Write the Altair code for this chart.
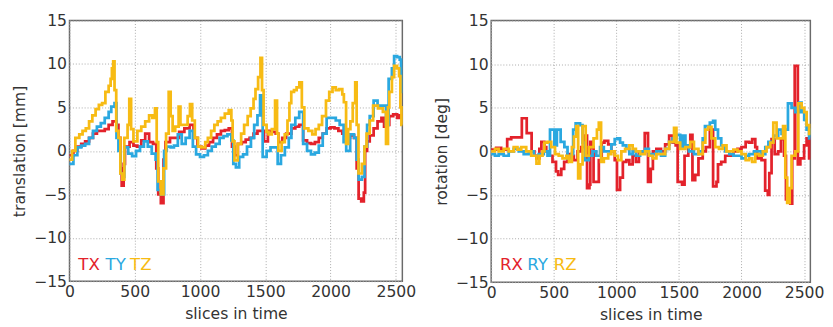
import altair as alt
import pandas as pd

# ---------------- data ----------------
TX_S = [0, 30, 60, 90, 120, 150, 180, 210, 240, 270, 300, 330, 360, 375, 390, 400, 415, 425, 460, 490, 520, 550, 580, 610, 640, 665, 680, 700, 720, 735, 770, 800, 840, 880, 920, 950, 980, 1010, 1040, 1070, 1100, 1130, 1160, 1190, 1220, 1245, 1265, 1290, 1320, 1350, 1380, 1410, 1440, 1470, 1490, 1520, 1550, 1580, 1600, 1630, 1660, 1700, 1730, 1760, 1790, 1820, 1850, 1880, 1910, 1940, 1970, 2000, 2030, 2060, 2090, 2120, 2150, 2180, 2200, 2215, 2235, 2255, 2265, 2280, 2300, 2330, 2360, 2390, 2410, 2430, 2450, 2480, 2510, 2530, 2550]
TX_V = [-0.5, 0.0, 0.5, 0.8, 1.1, 1.5, 2.0, 2.3, 2.3, 2.5, 3.0, 3.4, 3.0, 1.5, -2.0, -4.0, -1.5, 0.5, 1.0, 0.6, 0.5, 1.2, 2.0, 1.0, 0.8, -2.0, -5.0, -6.0, -1.0, 1.0, 1.5, 1.5, 2.2, 2.6, 3.0, 1.5, 0.5, 0.3, 0.6, 1.0, 1.5, 1.9, 2.3, 2.4, 2.6, 0.5, -0.5, 0.8, 1.0, 1.3, 1.5, 2.0, 2.3, 2.3, 1.1, 2.3, 2.2, 2.0, 1.0, 1.5, 2.0, 2.6, 2.8, 3.0, 1.2, 0.9, 0.8, 1.0, 1.5, 2.0, 2.6, 2.7, 2.6, 2.3, 2.0, 1.5, 1.8, 1.5, -2.0, -5.5, -5.8, -4.8, 0.0, 1.1, 1.8, 2.6, 3.4, 3.8, 2.8, 3.0, 4.0, 4.2, 3.8, 4.1, 4.1]

TY_S = [0, 30, 60, 90, 120, 150, 180, 210, 240, 270, 300, 320, 345, 360, 375, 390, 405, 420, 450, 480, 510, 540, 570, 600, 630, 660, 675, 700, 725, 745, 775, 800, 830, 860, 890, 920, 945, 970, 1000, 1030, 1060, 1090, 1120, 1150, 1180, 1210, 1240, 1255, 1275, 1300, 1330, 1360, 1390, 1415, 1440, 1460, 1480, 1510, 1540, 1570, 1595, 1620, 1650, 1680, 1700, 1730, 1760, 1790, 1820, 1850, 1880, 1910, 1940, 1970, 2010, 2040, 2070, 2100, 2120, 2150, 2180, 2200, 2215, 2240, 2260, 2280, 2300, 2330, 2360, 2400, 2425, 2445, 2470, 2487, 2510, 2530, 2540, 2550]
TY_V = [-1.5, -0.5, 0.4, 0.6, 0.8, 1.5, 2.3, 2.8, 3.2, 3.8, 4.5, 5.1, 5.5, 1.5, 0.0, -2.6, -3.0, 0.4, -0.3, -0.6, 0.0, 0.5, 1.1, 0.5, -0.3, -1.0, -4.5, -5.0, 0.0, 0.5, 0.4, 0.6, 1.9, 0.8, 1.5, 2.3, 0.5, -0.4, -0.7, -0.5, 0.0, 0.5, 0.8, 1.5, 1.7, 1.9, 1.2, -1.5, -1.9, -0.7, -0.4, 0.5, 1.5, 3.0, 4.1, 6.4, -0.7, 0.0, 0.4, 0.4, -1.5, -0.5, 0.4, 1.5, 3.0, 3.8, 4.5, 0.8, 0.0, -0.4, -0.2, 0.6, 2.0, 3.8, 3.8, 3.5, 3.0, 1.0, 0.0, 1.9, 1.5, -1.0, -3.3, -3.0, 0.5, 3.0, 4.0, 5.8, 5.2, 5.2, 3.0, 8.3, 9.5, 10.9, 10.8, 10.5, 6.8, 6.8]

TZ_S = [0, 20, 45, 75, 100, 125, 150, 175, 200, 225, 250, 275, 300, 315, 325, 335, 345, 358, 375, 390, 405, 420, 445, 458, 472, 490, 520, 550, 580, 610, 635, 655, 668, 680, 700, 720, 740, 760, 775, 790, 810, 836, 850, 880, 905, 923, 940, 960, 985, 1010, 1040, 1060, 1085, 1110, 1135, 1160, 1190, 1220, 1240, 1250, 1264, 1289, 1315, 1338, 1365, 1388, 1410, 1425, 1445, 1463, 1475, 1487, 1510, 1525, 1550, 1575, 1590, 1600, 1625, 1649, 1670, 1685, 1699, 1720, 1740, 1761, 1780, 1799, 1830, 1860, 1885, 1910, 1935, 1965, 1990, 2015, 2040, 2065, 2090, 2102, 2119, 2135, 2152, 2170, 2189, 2200, 2214, 2240, 2260, 2276, 2300, 2326, 2363, 2401, 2425, 2440, 2450, 2470, 2487, 2510, 2525, 2535, 2543, 2550]
TZ_V = [-1.0, 0.0, 1.5, 1.9, 2.3, 2.6, 3.4, 4.1, 4.8, 5.3, 5.5, 6.8, 7.5, 8.3, 9.5, 10.3, 7.0, 2.3, 1.5, -2.6, -3.3, 1.5, 3.0, 6.0, 2.5, 1.1, 2.3, 2.8, 3.4, 4.1, 3.8, 4.9, 1.0, -3.5, -5.0, -2.0, 2.0, 6.8, 4.0, 2.3, 2.8, 5.1, 3.0, 3.0, 4.0, 5.4, 3.5, 1.5, 0.5, 0.4, 1.0, 1.5, 2.3, 3.0, 3.4, 3.8, 4.3, 4.7, 3.5, 1.1, -1.1, 0.8, 2.0, 3.0, 4.0, 4.9, 6.0, 7.1, 8.5, 10.7, 7.0, 3.0, 2.2, 1.9, 2.5, 5.8, 2.0, 0.0, 1.0, 1.9, 3.5, 5.5, 6.8, 7.0, 7.3, 7.9, 5.0, 2.6, 2.3, 1.9, 2.5, 3.0, 4.0, 5.8, 6.8, 7.3, 7.0, 7.1, 6.5, 5.6, 0.8, 2.5, 3.4, 5.5, 7.9, 3.0, -2.6, -1.5, 0.5, 2.0, 3.5, 5.2, 4.9, 4.5, 0.8, 5.0, 6.8, 8.5, 9.8, 9.5, 8.6, 5.0, 3.0, 3.0]

RX_S = [0, 40, 80, 128, 160, 200, 245, 284, 323, 345, 362, 385, 401, 425, 440, 465, 490, 518, 535, 560, 583, 610, 635, 660, 690, 720, 750, 766, 785, 792, 805, 818, 845, 860, 883, 905, 935, 960, 987, 1005, 1030, 1052, 1080, 1104, 1130, 1156, 1180, 1208, 1227, 1253, 1275, 1292, 1320, 1357, 1390, 1422, 1450, 1474, 1490, 1525, 1545, 1575, 1591, 1608, 1630, 1656, 1690, 1715, 1747, 1773, 1800, 1812, 1838, 1870, 1903, 1935, 1968, 2000, 2033, 2060, 2085, 2110, 2124, 2160, 2189, 2210, 2222, 2240, 2265, 2293, 2315, 2340, 2355, 2390, 2405, 2425, 2450, 2470, 2500, 2520, 2540, 2550]
RX_V = [0.2, 0.4, 0.2, 1.4, 1.6, 1.6, 3.8, 2.1, 0.0, -0.5, -0.8, 0.3, 1.1, 0.5, 0.0, -0.5, -1.2, -2.3, -2.7, -2.0, -1.2, -0.3, -0.5, -1.0, 0.0, 0.5, 1.8, -4.2, -3.8, 1.1, 0.5, -3.5, -3.5, -1.0, 1.0, 1.2, 0.8, 0.0, -1.0, -4.4, -3.0, -1.2, -1.0, -1.5, -0.5, -1.2, 0.0, -0.2, 2.1, -3.5, -2.0, 0.0, 0.3, 0.0, 0.8, 1.8, 1.0, 0.7, -3.5, -3.8, -0.5, 0.5, 1.9, -3.3, -2.7, -0.8, 0.0, 0.5, 2.5, -4.0, -3.5, -1.5, -1.2, -0.5, -0.5, 0.0, 0.3, 0.5, 1.1, 1.0, 1.4, 0.5, -0.8, -1.0, -4.5, -5.0, -2.5, 1.4, -0.3, 0.0, 1.4, -0.5, -5.5, -6.0, -0.8, 9.8, -1.5, -0.8, 0.7, 1.5, -0.8, -0.8]

RY_S = [0, 30, 60, 100, 140, 180, 220, 260, 300, 340, 380, 420, 450, 470, 505, 525, 555, 585, 610, 640, 655, 675, 710, 730, 750, 780, 810, 840, 870, 900, 935, 960, 987, 1008, 1030, 1052, 1080, 1104, 1130, 1156, 1190, 1230, 1260, 1292, 1320, 1357, 1390, 1422, 1450, 1480, 1510, 1530, 1552, 1580, 1620, 1656, 1690, 1708, 1747, 1773, 1790, 1812, 1838, 1870, 1903, 1935, 1968, 2000, 2033, 2060, 2100, 2124, 2160, 2190, 2215, 2254, 2293, 2320, 2345, 2371, 2400, 2430, 2462, 2480, 2501, 2520, 2540, 2550]
RY_V = [-0.3, -0.5, -0.3, -0.5, 0.0, 0.3, 0.0, -0.3, 0.0, -0.5, -0.3, 0.0, -0.5, 2.5, 0.7, 2.5, 1.1, 0.5, -0.8, -0.3, 2.5, 3.2, 3.0, 1.0, -1.0, -0.5, 0.0, -0.5, 0.5, 0.0, 0.0, 0.8, 1.4, 1.5, 1.0, 0.7, 0.3, -0.3, 0.0, -0.5, 0.0, 0.3, -0.3, -0.3, 0.0, -0.5, 0.3, 1.1, 1.5, 1.9, 0.5, 1.8, 0.7, 0.0, -0.3, 0.0, 1.5, 2.9, 3.3, 3.5, 2.5, 1.5, 0.7, 0.0, -0.3, -0.5, -0.5, -0.8, -0.5, -0.3, 0.0, 0.0, -0.3, 0.5, 1.1, 1.8, 2.5, 2.0, 2.5, 5.5, 5.0, 4.5, 5.6, 4.5, 3.6, 2.5, 1.5, 1.5]

RZ_S = [0, 30, 60, 100, 140, 180, 210, 240, 280, 320, 362, 385, 410, 425, 450, 480, 510, 540, 570, 600, 622, 645, 661, 680, 695, 712, 730, 755, 780, 818, 845, 860, 878, 900, 935, 960, 987, 1013, 1040, 1070, 1104, 1130, 1156, 1190, 1230, 1260, 1292, 1320, 1357, 1390, 1422, 1461, 1480, 1510, 1552, 1591, 1620, 1656, 1690, 1711, 1734, 1760, 1790, 1820, 1850, 1880, 1903, 1935, 1968, 2000, 2033, 2060, 2085, 2110, 2140, 2170, 2200, 2230, 2254, 2280, 2300, 2332, 2350, 2365, 2385, 2400, 2430, 2453, 2480, 2501, 2520, 2540, 2550]
RZ_V = [0.0, 0.3, 0.0, 0.3, 0.0, 0.5, 0.2, 0.5, 0.0, -0.5, -1.4, -0.5, 0.0, 1.0, 1.1, 0.5, -0.3, -0.5, -0.8, -0.5, -1.2, 0.5, 1.7, 2.9, -3.1, -1.5, 2.9, -0.5, 0.5, 1.5, 2.5, 3.3, -1.2, -0.8, -0.3, 0.0, -0.5, -1.0, 0.0, 0.3, 0.7, 0.3, 0.0, -0.3, 0.0, -0.5, -0.8, -0.3, -0.3, 0.3, 1.1, 2.7, 1.0, 0.3, 0.5, 1.1, 0.3, -0.3, 1.0, 2.5, 2.8, 1.5, 0.5, 0.3, 0.7, 0.0, 0.0, 0.2, 0.0, -0.3, -1.0, -0.8, -1.2, -0.3, -0.5, 0.0, 0.5, 1.0, 3.3, 1.5, 1.5, 2.9, -3.0, -5.9, -4.2, -0.5, 0.0, 5.5, 5.0, 4.5, 3.0, 2.0, 2.0]

X_TICKS = [0, 500, 1000, 1500, 2000, 2500]
Y_TICKS = [-15, -10, -5, 0, 5, 10, 15]

RED = "#e3222b"
BLUE = "#2aa8e0"
YELLOW = "#f7bb14"
FONT = "DejaVu Sans"


def panel(series, ytitle, width, height, legend_x):
    xenc = alt.X("slice:Q", scale=alt.Scale(domain=[0, 2550], nice=False),
                 axis=alt.Axis(values=X_TICKS, title="slices in time", format="d"))
    yenc = alt.Y("value:Q", scale=alt.Scale(domain=[-15, 15], nice=False),
                 axis=alt.Axis(values=Y_TICKS, title=ytitle,
                               labelExpr="replace(datum.label, '-', '\u2212')"))
    layers = []
    for name, s, v, color in series:
        df = pd.DataFrame({"slice": s, "value": v, "series": name})
        layers.append(
            alt.Chart(df).mark_line(interpolate="step-after", color=color,
                                    strokeWidth=2.8)
            .encode(x=xenc, y=yenc)
        )
    for (name, s, v, color), lx in zip(series, legend_x):
        layers.append(
            alt.Chart(pd.DataFrame({"t": [name]}))
            .mark_text(align="left", baseline="alphabetic", fontSize=17,
                       font=FONT, color=color)
            .encode(x=alt.value(lx), y=alt.value(255), text="t:N")
        )
    return alt.layer(*layers).properties(width=width, height=height)


left = panel([("TX", TX_S, TX_V, RED), ("TY", TY_S, TY_V, BLUE),
              ("TZ", TZ_S, TZ_V, YELLOW)],
             "translation [mm]", 341, 267, [9, 37, 62])
right = panel([("RX", RX_S, RX_V, RED), ("RY", RY_S, RY_V, BLUE),
               ("RZ", RZ_S, RZ_V, YELLOW)],
              "rotation [deg]", 327, 268, [9, 37, 64])

chart = (
    alt.hconcat(left, right, spacing=16)
    .properties(padding={"left": 3, "top": 0, "right": 0, "bottom": 0},
                background="white")
    .configure_axis(grid=True, gridDash=[1, 2], gridColor="#a8a8a8",
                    gridWidth=1, domain=False, ticks=False,
                    labelFont=FONT, labelFontSize=16, labelColor="#333333",
                    labelPadding=3, labelFlush=False,
                    titleFont=FONT, titleFontSize=16, titleFontWeight="normal",
                    titleColor="#333333", titlePadding=6)
    .configure_view(stroke="#6a6a6a", strokeWidth=1.5)
)

chart.save("out.html", embed_options={"renderer": "svg", "actions": False})
